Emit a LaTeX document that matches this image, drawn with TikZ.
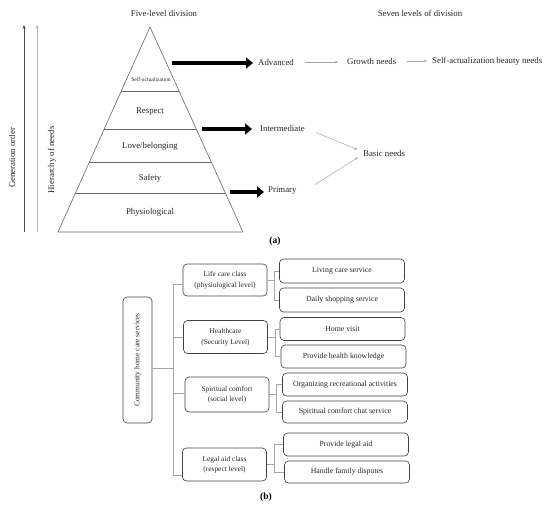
\documentclass[tikz,border=0pt]{standalone}
\usepackage{fontspec}
\setmainfont{Liberation Serif}
\usetikzlibrary{arrows.meta,calc}
\begin{document}
\begin{tikzpicture}[x=1pt,y=-1pt,
  txt/.style={font=\fontsize{8.8}{10}\selectfont, text=black!85, inner sep=0pt},
  pyrline/.style={draw=black!60, line width=0.6pt},
  bigarrow/.style={line width=4.2pt, -{Triangle[length=7pt,width=11pt]}},
  grayarr/.style={draw=gray!70, line width=0.5pt, -{Stealth[length=3pt,width=2.6pt]}},
  box/.style={draw=black!75, rounded corners=4pt, line width=0.6pt, align=center, inner sep=1pt, text=black!85},
  lvtwo/.style={box, font=\fontsize{7.4}{10.5}\selectfont, minimum width=84pt},
  leaf/.style={box, font=\fontsize{7.8}{8.6}\selectfont, minimum width=125pt},
  conn/.style={draw=gray!70, line width=0.5pt},
  lab/.style={font=\fontsize{9.5}{10}\selectfont\bfseries, inner sep=0pt}
]
\useasboundingbox (0,0) rectangle (550,507);

% ---------- part (a) ----------
\node[txt] (five) at (164,13) {Five-level division};
\node[txt] (seven) at (420,13) {Seven levels of division};

\coordinate (go1) at (24,232); \coordinate (go2) at (24,25);
\draw[draw=black!70, line width=0.7pt, -{Stealth[length=4pt,width=3.2pt]}] (go1) -- (go2);
\node[txt, rotate=90] (gen) at (12,158) {Generation order};
\coordinate (hn1) at (37,232); \coordinate (hn2) at (37,25);
\draw[draw=gray!55, line width=0.7pt, -{Stealth[length=4pt,width=3.2pt]}] (hn1) -- (hn2);
\node[txt, rotate=90] (hier) at (52,160) {Hierarchy of needs};

\coordinate (apex) at (150,27);
\coordinate (bl) at (58,232);
\coordinate (br) at (243,232);
\draw[pyrline] (apex) -- (br) -- (bl) -- cycle;
\foreach \t in {0.3122,0.4976,0.6585,0.8098}
  \draw[pyrline] ($(apex)!\t!(bl)$) -- ($(apex)!\t!(br)$);

\node[txt, font=\fontsize{5.6}{6}\selectfont] (sa) at (151,80) {Self-actualization};
\node[txt] (resp) at (150,112) {Respect};
\node[txt] (love) at (150,146) {Love/belonging};
\node[txt] (safe) at (150,178) {Safety};
\node[txt] (phys) at (150,212) {Physiological};

\node[txt, anchor=west] (adv) at (258,62) {Advanced};
\node[txt, anchor=west] (inter) at (260,128) {Intermediate};
\node[txt, anchor=west] (prim) at (268,191) {Primary};
\node[txt, anchor=west] (growth) at (347,61) {Growth needs};
\node[txt, anchor=west] (selfb) at (432,61) {Self-actualization beauty needs};
\node[txt, anchor=west] (basic) at (363,153) {Basic needs};

\coordinate (s1) at (172,63);
\coordinate (s2) at (202,129);
\coordinate (s3) at (230,192);
\draw[bigarrow, shorten >=5pt] (s1) -- (s1 -| adv.west);
\draw[bigarrow, shorten >=8pt] (s2) -- (s2 -| inter.west);
\draw[bigarrow, shorten >=4pt] (s3) -- (s3 -| prim.west);

\draw[grayarr, shorten <=11pt, shorten >=9pt] (adv.east) -- (adv.east -| growth.west);
\draw[grayarr, shorten <=10pt, shorten >=5pt] (growth.east) -- (growth.east -| selfb.west);
\draw[grayarr, shorten <=12pt, shorten >=6pt] (inter.east) -- ($(basic.west)+(0,-1.2)$);
\draw[grayarr, shorten <=12pt, shorten >=6pt] (prim.east -| inter.east) -- ($(basic.west)+(0,1.2)$);

\node[lab] (la) at (275,241) {(a)};

% ---------- part (b) ----------
\node[box, minimum width=29pt, minimum height=126pt, inner sep=0pt] (root) at (137.5,360)
  {\rotatebox{90}{\fontsize{7.4}{9}\selectfont Community home care services}};

\node[lvtwo, minimum height=32pt] (l1) at (225,280) {Life care class\\(physiological level)};
\node[lvtwo, minimum height=33pt] (l2) at (225.5,337) {Healthcare\\(Security Level)};
\node[lvtwo, minimum height=35pt] (l3) at (227,394.5) {Spiritual comfort\\(social level)};
\node[lvtwo, minimum height=33pt] (l4) at (224.5,464.5) {Legal aid class\\(respect level)};

\node[leaf, minimum height=24pt] (a1) at (342,271) {Living care service};
\node[leaf, minimum height=24pt] (a2) at (342,300) {Daily shopping service};
\node[leaf, minimum height=23pt] (b1) at (342.5,329) {Home visit};
\node[leaf, minimum height=23pt] (b2) at (343.5,356.5) {Provide health knowledge};
\node[leaf, minimum height=23pt] (c1) at (345,384.5) {Organizing recreational activities};
\node[leaf, minimum height=22pt] (c2) at (345,412) {Spiritual comfort chat service};
\node[leaf, minimum height=23pt] (d1) at (346,444.5) {Provide legal aid};
\node[leaf, minimum height=22pt] (d2) at (347,472) {Handle family disputes};

% trunk
\coordinate (trk) at (173,0);
\coordinate (rt) at ($(root.east)+(0,8)$);
\draw[conn] (rt) -- (rt -| trk);
\coordinate (t1) at ($(l1.west)+(0,4)$);
\coordinate (t2) at ($(l2.west)+(0,0)$);
\coordinate (t3) at ($(l3.west)+(0,-1.5)$);
\coordinate (t4) at ($(l4.west)+(0,11)$);
\draw[conn] (t1 -| trk) -- (t4 -| trk);
\foreach \t in {t1,t2,t3,t4}
  \draw[conn] (\t -| trk) -- (\t);

% brackets
\foreach \p/\u/\v in {l1/a1/a2, l2/b1/b2, l3/c1/c2, l4/d1/d2} {
  \draw[conn] (\p.east) -- ++(7,0) coordinate (br\p);
  \draw[conn] (\u.west) -| (br\p);
  \draw[conn] (\v.west) -| (br\p);
}

\node[lab] (lb) at (266,497) {(b)};
\end{tikzpicture}
\end{document}
